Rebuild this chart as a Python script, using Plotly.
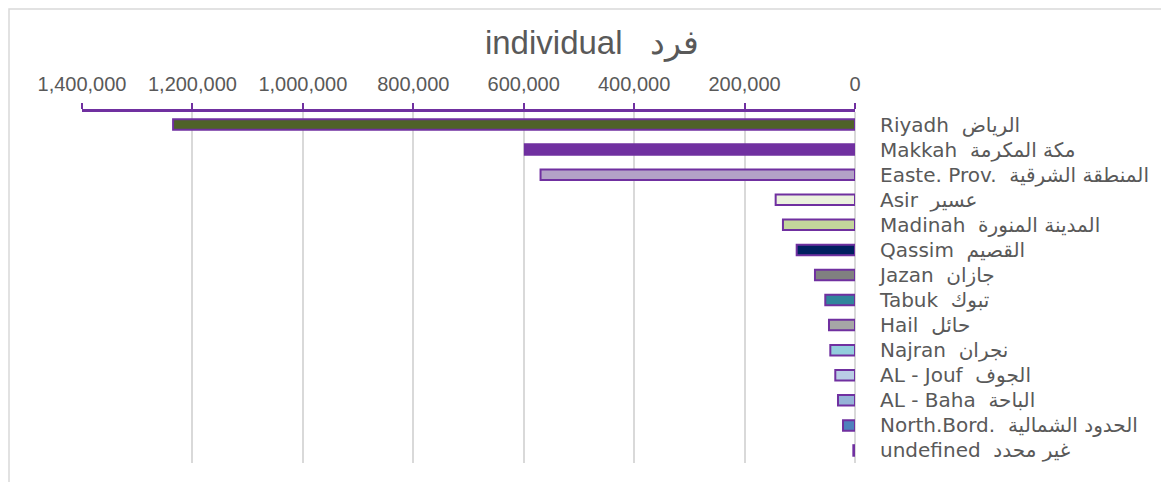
import plotly.graph_objects as go

categories = [
    "Riyadh  الرياض",
    "Makkah  مكة المكرمة",
    "Easte. Prov.  المنطقة الشرقية",
    "Asir  عسير",
    "Madinah  المدينة المنورة",
    "Qassim  القصيم",
    "Jazan  جازان",
    "Tabuk  تبوك",
    "Hail  حائل",
    "Najran  نجران",
    "AL - Jouf  الجوف",
    "AL - Baha  الباحة",
    "North.Bord.  الحدود الشمالية",
    "undefined  غير محدد",
]
values = [1235000, 598000, 569500, 143700, 130500, 105600, 72500, 53800,
          47100, 44700, 35700, 30800, 21700, 3000]
bar_colors = ["#4F6228", "#7030A0", "#B3A2C7", "#EBF1DE", "#C3D69B", "#002060",
              "#808080", "#31859C", "#A6A6A6", "#93CDDD", "#B9CDE5", "#95B3D7",
              "#4F81BD", "#B3A2C7"]
title_text = "individual   فرد"
x_ticks = [0, 200000, 400000, 600000, 800000, 1000000, 1200000, 1400000]

# page has an 8px body margin; figure coordinates = page coordinates - 8
OFF = 8
W, H = 1169 - OFF, 482 - OFF
ML, MR, MT, MB = 82 - OFF, 314, 112 - OFF, 19

fig = go.Figure(go.Bar(
    x=values,
    y=categories,
    orientation="h",
    marker=dict(color=bar_colors, line=dict(color="#7030A0", width=2)),
    width=0.42,
))

gray = "#595959"
fig.update_layout(
    width=W, height=H,
    margin=dict(l=ML, r=MR, t=MT, b=MB, pad=0),
    paper_bgcolor="white", plot_bgcolor="white",
    showlegend=False,
    title=dict(text=title_text, x=(592 - OFF) / W, xanchor="center",
               y=1 - (42 - OFF) / H, yanchor="middle",
               font=dict(family="Liberation Sans Narrow, Arial Narrow, sans-serif", size=33, color=gray)),
    xaxis=dict(
        side="top",
        range=[1400000, 0],
        tickvals=x_ticks,
        tickformat=",",
        showline=True, linecolor="#7030A0", linewidth=2.5,
        ticks="outside", ticklen=6, tickwidth=2, tickcolor="#7030A0",
        showgrid=True, gridcolor="#D9D9D9", gridwidth=2,
        zeroline=True, zerolinecolor="#D9D9D9", zerolinewidth=2,
        tickfont=dict(family="Liberation Sans Narrow, Arial Narrow, sans-serif", size=20, color=gray),
        ticklabelstandoff=4,
        fixedrange=True,
    ),
    yaxis=dict(
        side="right",
        autorange="reversed",
        showline=False,
        showgrid=False,
        ticks="",
        tickfont=dict(family="DejaVu Sans, Noto Sans, sans-serif", size=20, color=gray),
        ticklabelstandoff=24,
        fixedrange=True,
    ),
)

# light chart frame (left and top edges visible in the window)
pw = W - ML - MR
ph = H - MT - MB
fig.add_shape(type="rect", xref="paper", yref="paper",
              x0=(1 - ML) / pw, x1=(W + 10 - ML) / pw,
              y0=(H - MB - (H + 10)) / ph, y1=(H - MB - 1) / ph,
              line=dict(color="#D9D9D9", width=1.5), fillcolor="rgba(0,0,0,0)", layer="below")

fig.write_html("out.html")
